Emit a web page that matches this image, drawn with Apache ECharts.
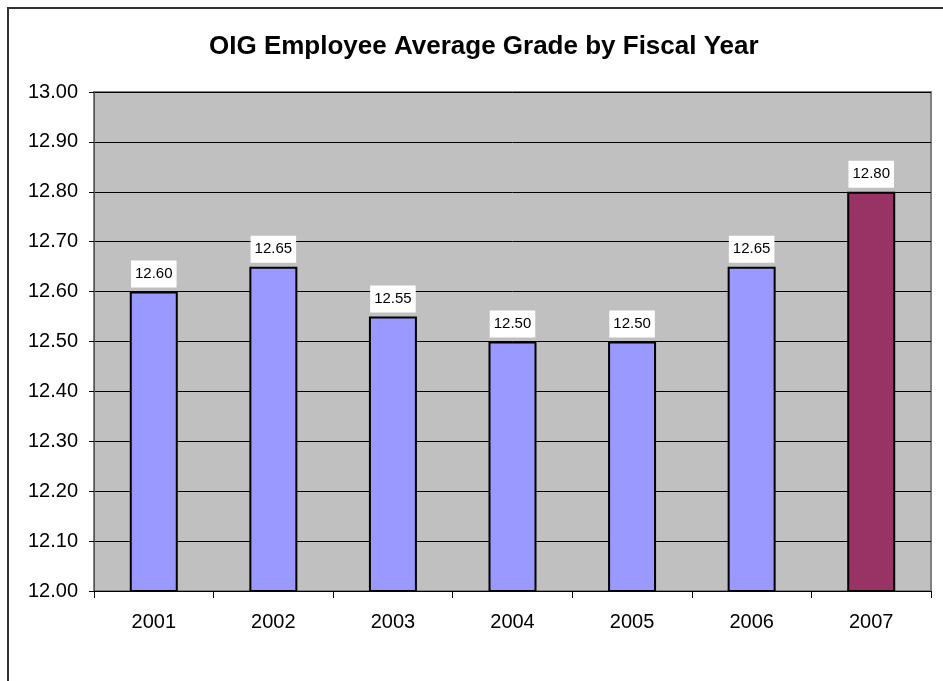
<!DOCTYPE html>
<html>
<head>
<meta charset="utf-8">
<script src="https://cdn.jsdelivr.net/npm/echarts@6/dist/echarts.min.js"></script>
<style>
  html, body { margin: 0; padding: 0; background: #ffffff; }
  #chart { width: 943px; height: 681px; }
</style>
</head>
<body>
<div id="chart"></div>
<script>
// Fiscal years and average grade of OIG employees
const years = ['2001', '2002', '2003', '2004', '2005', '2006', '2007'];
const avgGrade = [12.60, 12.65, 12.55, 12.50, 12.50, 12.65, 12.80];
// Current year is highlighted in a different colour
const highlightYear = '2007';
const yTicks = { min: 12.0, max: 13.0, interval: 0.1 };

const FONT = 'Liberation Sans, Arial, sans-serif';

const chart = echarts.init(document.getElementById('chart'), null, { renderer: 'canvas' });

const barData = years.map((y, i) => ({
  value: avgGrade[i],
  itemStyle: { color: y === highlightYear ? '#993366' : '#9999FF' }
}));

chart.setOption({
  animation: false,
  backgroundColor: '#ffffff',
  textStyle: { fontFamily: FONT },
  title: {
    text: 'OIG Employee Average Grade by Fiscal Year',
    left: 204,
    top: 29,
    textStyle: { fontFamily: FONT, fontSize: 26, fontWeight: 'bold', color: '#000000' }
  },
  graphic: [{
    type: 'rect',
    shape: { x: 8, y: 8, width: 1200, height: 1200 },
    style: { fill: 'none', stroke: '#333333', lineWidth: 2 },
    silent: true
  }],
  grid: {
    left: 94, top: 92, right: 12, bottom: 90,
    show: true,
    backgroundColor: '#C0C0C0',
    borderColor: '#808080',
    borderWidth: 2
  },
  xAxis: {
    type: 'category',
    data: years,
    axisLine: { show: true, lineStyle: { color: '#000000', width: 1 } },
    axisTick: { show: true, length: 7, lineStyle: { color: '#000000' } },
    axisLabel: { margin: 21, fontSize: 20, color: '#000000', fontFamily: FONT },
    splitLine: { show: false }
  },
  yAxis: {
    type: 'value',
    min: yTicks.min,
    max: yTicks.max,
    interval: yTicks.interval,
    axisLine: { show: true, lineStyle: { color: '#555555', width: 1 } },
    axisTick: { show: true, length: 5, lineStyle: { color: '#000000' } },
    axisLabel: {
      margin: 16, fontSize: 20, color: '#000000', fontFamily: FONT,
      formatter: v => v.toFixed(2)
    },
    splitLine: { show: true, lineStyle: { color: '#000000', width: 1 } }
  },
  series: [{
    type: 'bar',
    data: barData,
    barWidth: 48,
    itemStyle: { borderColor: '#000000', borderWidth: 2 },
    label: {
      show: true,
      position: 'top',
      distance: 4,
      formatter: p => p.value.toFixed(2),
      fontSize: 15,
      color: '#000000',
      fontFamily: FONT,
      backgroundColor: '#ffffff',
      padding: [6, 4, 6, 4]
    }
  }]
});
</script>
</body>
</html>
